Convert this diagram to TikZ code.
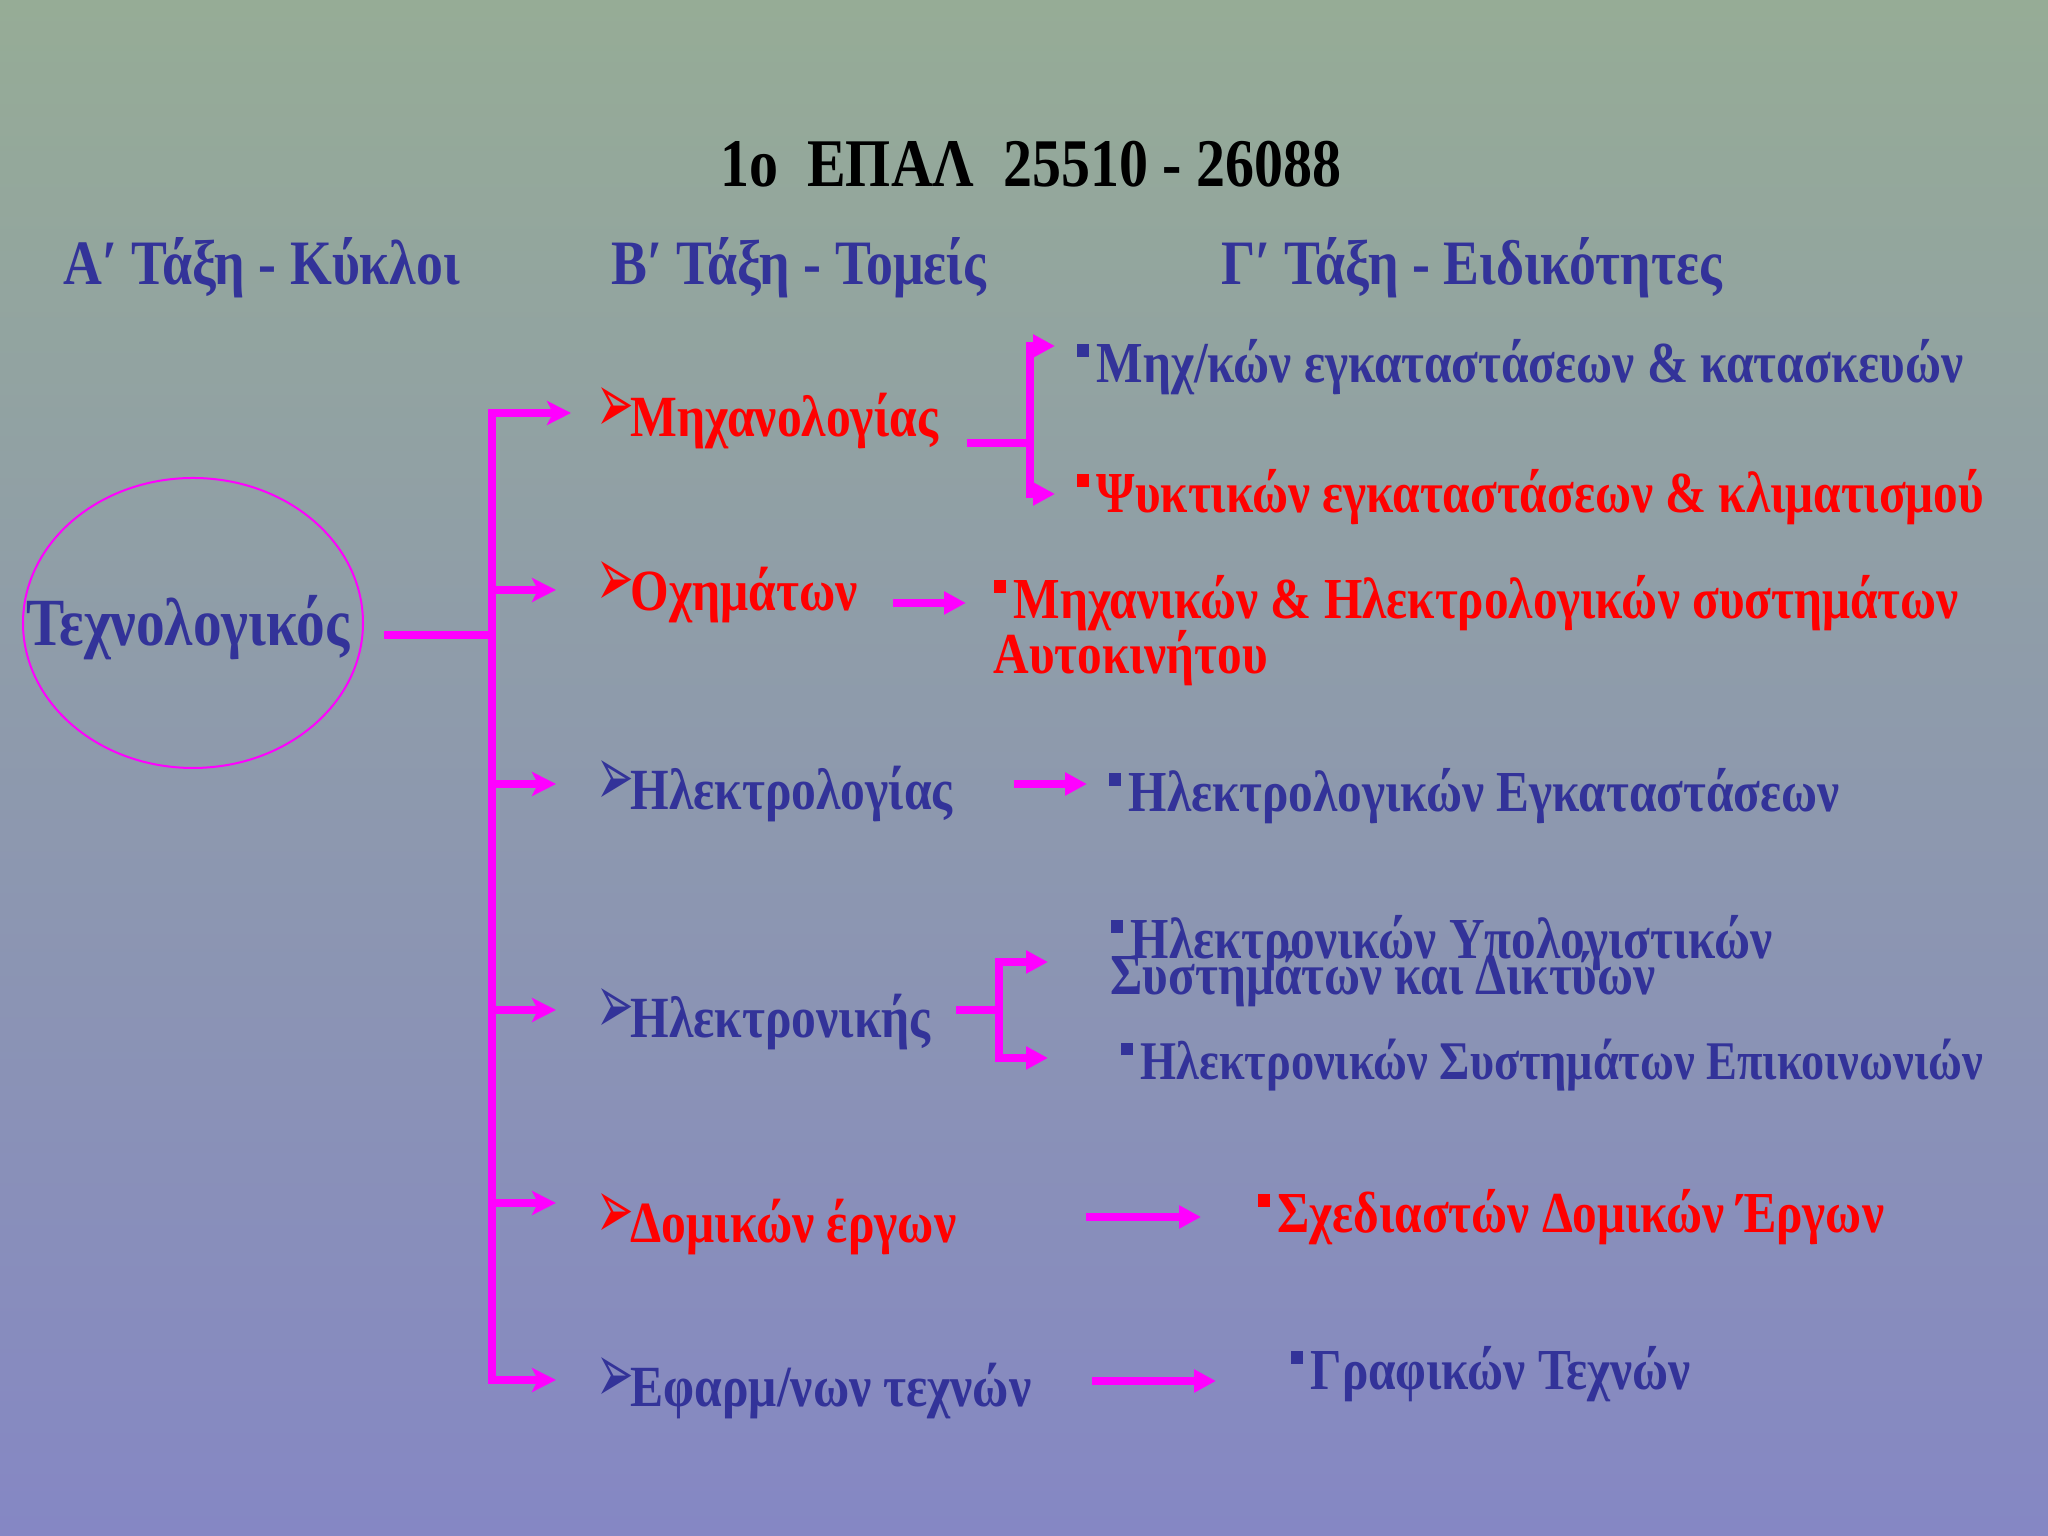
\documentclass[tikz,border=0pt]{standalone}
\usepackage{fontspec}
\usepackage{graphicx}
\setmainfont[FakeStretch=0.85]{Liberation Serif}
\newfontfamily\dingfont{DejaVu Sans}
\usepackage{tikz}
\usetikzlibrary{arrows.meta,positioning}
\definecolor{tblue}{RGB}{51,51,153}
\definecolor{tred}{RGB}{255,0,0}
\definecolor{tpink}{RGB}{255,0,255}
\definecolor{bgtop}{RGB}{150,172,150}
\definecolor{bgbot}{RGB}{133,135,196}
\newcommand{\secmark}{\makebox[0.34cm][l]{\dingfont\fontsize{15}{15}\selectfont\raisebox{0.08em}{\scalebox{0.85}[1.6]{➢}}}}
\newcommand{\specmark}{\makebox[0.2cm][l]{\raisebox{0.45em}{\rule{0.22em}{0.22em}}}}

\tikzset{
  title/.style={anchor=base, inner sep=0pt, text=black, font=\fontsize{19.4}{19.4}\selectfont\bfseries},
  hdr/.style={anchor=base west, inner sep=0pt, text=tblue, font=\fontsize{18}{18}\selectfont\bfseries},
  sector/.style={anchor=base west, inner sep=0pt, font=\fontsize{16.6}{16.6}\selectfont\bfseries},
  spec/.style={anchor=base west, inner sep=0pt, align=left, font=\fontsize{16.5}{16.5}\selectfont\bfseries},
  ring/.style={draw=tpink, line width=0.02cm},
  bar/.style={draw=tpink, line width=0.08cm, line cap=rect},
  branch/.style={draw=tpink, line width=0.08cm, -{Stealth[length=0.24cm 0, width=0.24cm 0, inset=0.06cm 0]}},
  link/.style={draw=tpink, line width=0.08cm},
  tip/.style={-{Triangle[length=0.22cm 0, width=0.22cm 0]}}
}

\begin{document}
\begin{tikzpicture}
  \useasboundingbox (0,0) rectangle (20.48,15.36);
  \shade[top color=bgtop, bottom color=bgbot] (0,0) rectangle (20.48,15.36);

  \node[title] (head) at (10.31,13.49) {1o\ \ ΕΠΑΛ\ \ 25510 - 26088};
  \node[hdr] (ha) at (0.63,12.51) {Α′ Τάξη - Κύκλοι};
  \node[hdr] (hb) at (6.11,12.51) {Β′ Τάξη - Τομείς};
  \node[hdr] (hc) at (12.21,12.51) {Γ′ Τάξη - Ειδικότητες};

  \node[anchor=base, inner sep=0pt, text=tblue, font=\fontsize{19.2}{19.2}\selectfont\bfseries] (tech) at (1.88,8.90) {Τεχνολογικός};
  \draw[ring] (1.93,9.13) ellipse [x radius=1.70, y radius=1.45];

  \coordinate (root) at (3.88,9.01);
  \coordinate (hub) at (4.92,9.01);
  \coordinate (b1) at (4.92,11.23);
  \coordinate (b2) at (4.92,9.46);
  \coordinate (b3) at (4.92,7.52);
  \coordinate (b4) at (4.92,5.26);
  \coordinate (b5) at (4.92,3.33);
  \coordinate (b6) at (4.92,1.56);
  \draw[bar] (root) -- (hub);
  \draw[bar] (b1) -- (b6);

  \node[sector, text=tred] (mech) at (5.96,10.99) {\secmark Μηχανολογίας};
  \node[sector, text=tred] (veh) at (5.96,9.25) {\secmark Οχημάτων};
  \node[sector, text=tblue] (elec) at (5.96,7.26) {\secmark Ηλεκτρολογίας};
  \node[sector, text=tblue] (tron) at (5.96,4.98) {\secmark Ηλεκτρονικής};
  \node[sector, text=tred] (civ) at (5.96,2.93) {\secmark Δομικών έργων};
  \node[sector, text=tblue] (art) at (5.96,1.29) {\secmark Εφαρμ/νων τεχνών};

  \draw[branch, shorten >=0.25cm] (b1) -- (b1 -| mech.west);
  \draw[branch, shorten >=0.40cm] (b2) -- (b2 -| veh.west);
  \draw[branch, shorten >=0.40cm] (b3) -- (b3 -| elec.west);
  \draw[branch, shorten >=0.40cm] (b4) -- (b4 -| tron.west);
  \draw[branch, shorten >=0.40cm] (b5) -- (b5 -| civ.west);
  \draw[branch, shorten >=0.40cm] (b6) -- (b6 -| art.west);

  \node[spec, text=tblue] (s1) at (10.76,11.53) {\specmark Μηχ/κών εγκαταστάσεων \& κατασκευών};
  \node[spec, text=tred] (s2) at (10.76,10.23) {\specmark Ψυκτικών εγκαταστάσεων \& κλιματισμού};
  \node[spec, text=tred] (s3) at (9.93,8.62) {\specmark Μηχανικών \& Ηλεκτρολογικών συστημάτων\\[-0.8pt]Αυτοκινήτου};
  \node[spec, text=tblue] (s4) at (11.08,7.24) {\specmark Ηλεκτρολογικών Εγκαταστάσεων};
  \node[spec, text=tblue] (s5) at (11.10,5.41) {\specmark Ηλεκτρονικών Υπολογιστικών\\[-6.2pt]Συστημάτων και Δικτύων};
  \node[spec, text=tblue, font=\fontsize{15.5}{15.5}\selectfont\bfseries] (s6) at (11.20,4.56) {\specmark Ηλεκτρονικών Συστημάτων Επικοινωνιών};
  \node[spec, text=tred] (s7) at (12.57,3.03) {\specmark Σχεδιαστών Δομικών Έργων};
  \node[spec, text=tblue] (s8) at (12.90,1.46) {\specmark Γραφικών Τεχνών};

  \coordinate (mj) at (10.30,10.93);
  \coordinate (mt) at (10.55,11.90);
  \coordinate (mb) at (10.55,10.42);
  \draw[link, shorten <=0.28cm] (mech.east |- mj) -- (mj);
  \draw[link, tip] (mj) |- (mt);
  \draw[link, tip] (mj) |- (mb);

  \coordinate (vj) at (9.66,9.33);
  \draw[link, tip, shorten <=0.35cm, shorten >=0.27cm] (veh.east |- vj) -- (s3.west |- vj);

  \coordinate (ej) at (10.87,7.52);
  \draw[link, tip, shorten <=0.60cm, shorten >=0.21cm] (elec.east |- ej) -- (s4.west |- ej);

  \coordinate (tj) at (9.99,5.26);
  \coordinate (tt) at (10.48,5.74);
  \coordinate (tb) at (10.48,4.78);
  \draw[link, shorten <=0.25cm] (tron.east |- tj) -- (tj);
  \draw[link, tip] (tj) |- (tt);
  \draw[link, tip] (tj) |- (tb);

  \coordinate (cj) at (12.01,3.19);
  \draw[link, tip, shorten <=1.29cm, shorten >=0.56cm] (civ.east |- cj) -- (s7.west |- cj);

  \coordinate (aj) at (12.16,1.55);
  \draw[link, tip, shorten <=0.60cm, shorten >=0.74cm] (art.east |- aj) -- (s8.west |- aj);
\end{tikzpicture}
\end{document}
